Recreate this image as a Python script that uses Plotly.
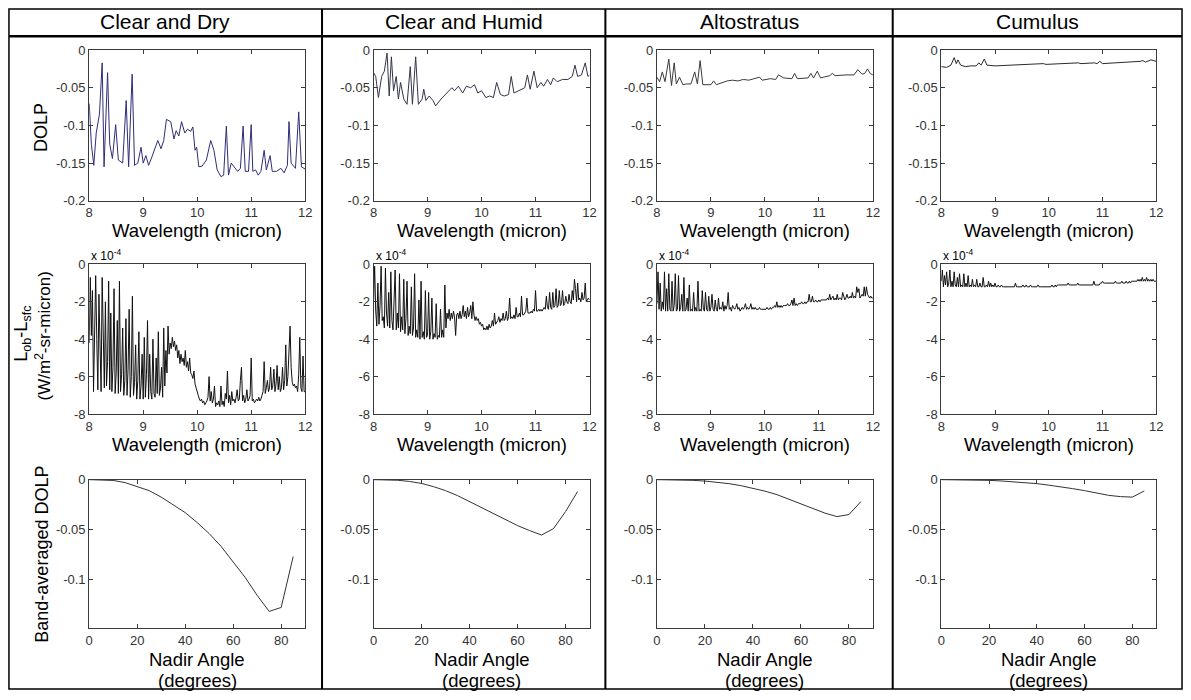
import plotly.graph_objects as go

W, H = 1191, 700

conditions = ["Clear and Dry", "Clear and Humid", "Altostratus", "Cumulus"]

# ---------------- Row 1: DOLP spectra ----------------
dolp_dry_wl = [8.0, 8.04, 8.085, 8.13, 8.19, 8.24, 8.275, 8.34, 8.38, 8.43,
               8.49, 8.54, 8.62, 8.685, 8.73, 8.795, 8.84, 8.9, 8.96, 9.0,
               9.05, 9.1, 9.16, 9.27, 9.33, 9.38, 9.43, 9.51, 9.57, 9.61,
               9.66, 9.71, 9.77, 9.82, 9.88, 9.92, 9.96, 9.99, 10.03, 10.09,
               10.17, 10.25, 10.31, 10.37, 10.44, 10.49, 10.54, 10.58, 10.63, 10.69,
               10.75, 10.8, 10.85, 10.89, 10.95, 11.0, 11.03, 11.08, 11.13, 11.18,
               11.24, 11.28, 11.35, 11.39, 11.47, 11.55, 11.61, 11.67, 11.7, 11.74,
               11.82, 11.88, 11.93, 12.0]
dolp_dry = [-0.071, -0.125, -0.153, -0.11, -0.085, -0.017, -0.155, -0.03, -0.125, -0.144,
            -0.099, -0.146, -0.15, -0.067, -0.155, -0.032, -0.153, -0.15, -0.129, -0.15,
            -0.14, -0.153, -0.142, -0.12, -0.131, -0.12, -0.092, -0.095, -0.118, -0.107,
            -0.114, -0.095, -0.11, -0.105, -0.108, -0.102, -0.133, -0.129, -0.155, -0.154,
            -0.146, -0.12, -0.133, -0.159, -0.168, -0.166, -0.101, -0.166, -0.15, -0.155,
            -0.161, -0.157, -0.101, -0.161, -0.161, -0.099, -0.161, -0.159, -0.166, -0.161,
            -0.133, -0.159, -0.14, -0.161, -0.161, -0.157, -0.163, -0.153, -0.095, -0.15,
            -0.157, -0.082, -0.155, -0.158]

dolp_humid_wl = [8.0, 8.04, 8.09, 8.15, 8.2, 8.25, 8.29, 8.33, 8.37, 8.42,
                 8.46, 8.5, 8.56, 8.62, 8.68, 8.72, 8.78, 8.83, 8.9, 8.93,
                 8.97, 9.03, 9.1, 9.15, 9.25, 9.35, 9.45, 9.5, 9.57, 9.65,
                 9.72, 9.8, 9.87, 9.93, 10.0, 10.08, 10.15, 10.22, 10.28, 10.35,
                 10.42, 10.5, 10.55, 10.6, 10.7, 10.8, 10.85, 10.9, 10.97, 11.03,
                 11.1, 11.15, 11.22, 11.28, 11.33, 11.4, 11.5, 11.6, 11.68, 11.73,
                 11.78, 11.85, 11.92, 11.97, 12.0]
dolp_humid = [-0.03, -0.035, -0.063, -0.035, -0.028, -0.004, -0.061, -0.009, -0.054, -0.035,
              -0.065, -0.043, -0.065, -0.072, -0.022, -0.072, -0.009, -0.072, -0.065, -0.052,
              -0.067, -0.061, -0.067, -0.074, -0.065, -0.057, -0.05, -0.054, -0.048, -0.057,
              -0.048, -0.05, -0.046, -0.057, -0.054, -0.063, -0.061, -0.063, -0.043, -0.059,
              -0.061, -0.059, -0.035, -0.057, -0.053, -0.05, -0.033, -0.052, -0.028, -0.05,
              -0.043, -0.048, -0.039, -0.046, -0.037, -0.042, -0.039, -0.039, -0.035, -0.02,
              -0.035, -0.033, -0.017, -0.035, -0.033]

dolp_alto_wl = [8.0, 8.05, 8.1, 8.15, 8.22, 8.27, 8.32, 8.36, 8.42, 8.48,
                8.55, 8.63, 8.7, 8.75, 8.8, 8.85, 9.0, 9.05, 9.1, 9.2,
                9.3, 9.4, 9.5, 9.6, 9.7, 9.8, 9.9, 9.95, 10.1, 10.2,
                10.25, 10.35, 10.5, 10.55, 10.6, 10.8, 10.85, 10.9, 10.97, 11.03,
                11.2, 11.25, 11.3, 11.5, 11.65, 11.72, 11.8, 11.85, 11.9, 11.95,
                12.0]
dolp_alto = [-0.036, -0.042, -0.029, -0.042, -0.012, -0.047, -0.017, -0.045, -0.036, -0.046,
             -0.045, -0.045, -0.029, -0.045, -0.014, -0.046, -0.046, -0.041, -0.046, -0.043,
             -0.041, -0.04, -0.041, -0.039, -0.04, -0.038, -0.036, -0.04, -0.038, -0.039,
             -0.033, -0.037, -0.038, -0.031, -0.038, -0.037, -0.031, -0.037, -0.028, -0.037,
             -0.034, -0.031, -0.034, -0.033, -0.033, -0.026, -0.032, -0.031, -0.025, -0.031,
             -0.033]

dolp_cumulus_wl = [8.0, 8.1, 8.18, 8.24, 8.28, 8.31, 8.36, 8.45, 8.55, 8.65,
                   8.7, 8.74, 8.8, 8.85, 9.0, 9.5, 9.9, 9.95, 10.5, 10.55,
                   10.6, 10.85, 10.9, 10.95, 11.0, 11.5, 11.7, 11.75, 11.8, 11.9,
                   12.0]
dolp_cumulus = [-0.022, -0.023, -0.02, -0.01, -0.018, -0.013, -0.02, -0.022, -0.021, -0.021,
                -0.017, -0.02, -0.012, -0.02, -0.021, -0.019, -0.018, -0.019, -0.018, -0.017,
                -0.018, -0.017, -0.018, -0.015, -0.018, -0.016, -0.015, -0.014, -0.016, -0.013,
                -0.015]

# ---------------- Row 2: L_ob - L_sfc (units of 1e-4 W/m^2-sr-micron),
# one value every 0.02 micron from 8.00 to 12.00 ----------------
wl_start, wl_step = 8.0, 0.02

rad_dry = [
    -4.2, -0.7, -3.8, -1.4, -6.8,
    -3.5, -0.6, -4.0, -6.7, -1.6,
    -4.5, -6.8, -0.7, -5.0, -6.6,
    -2.0, -6.5, -5.2, -0.9, -6.7,
    -2.6, -6.8, -5.5, -1.3, -6.9,
    -5.8, -3.0, -6.9, -0.9, -6.8,
    -5.9, -3.4, -7.0, -6.2, -2.9,
    -7.0, -5.6, -2.4, -7.1, -6.0,
    -1.7, -7.0, -6.3, -4.3, -7.2,
    -6.2, -3.6, -7.2, -6.5, -4.8,
    -7.2, -3.9, -7.1, -5.9, -3.0,
    -7.2, -4.8, -6.8, -7.2, -4.0,
    -6.9, -7.1, -5.0, -6.9, -3.6,
    -7.0, -6.6, -5.5, -7.1, -3.4,
    -6.5, -4.6, -5.8, -3.3, -4.8,
    -4.2, -4.5, -3.9, -4.4, -4.1,
    -4.6, -4.3, -5.0, -4.6, -5.3,
    -4.8, -5.2, -5.0, -5.4, -4.6,
    -5.5, -5.2, -5.7, -5.0, -5.8,
    -5.9, -6.1, -5.7, -6.4, -6.6,
    -6.9, -7.0, -7.2, -7.3, -7.2,
    -7.4, -7.3, -7.5, -7.4, -7.3,
    -7.1, -6.0, -7.3, -6.8, -7.4,
    -7.2, -6.5, -7.6, -7.4, -7.5,
    -7.3, -7.6, -6.5, -7.5, -7.3,
    -7.6, -6.9, -7.2, -5.7, -7.4,
    -7.0, -7.5, -6.8, -7.3, -7.2,
    -7.4, -7.1, -6.7, -7.3, -7.2,
    -6.2, -5.5, -7.3, -7.0, -7.4,
    -7.2, -6.7, -7.3, -7.2, -7.0,
    -5.0, -7.3, -7.2, -7.4, -7.3,
    -7.2, -7.3, -7.1, -7.3, -7.2,
    -7.0, -6.8, -5.2, -6.9, -6.6,
    -6.2, -6.8, -6.6, -5.5, -6.7,
    -6.5, -5.6, -6.8, -6.4, -5.4,
    -6.7, -6.0, -6.8, -6.6, -5.5,
    -6.7, -6.2, -4.3, -6.5, -6.0,
    -4.2, -3.3, -5.5, -6.3, -6.5,
    -6.4, -6.6, -6.5, -6.8, -5.9,
    -3.9, -6.6, -6.8, -4.9, -6.8,
    -6.8]

rad_humid = [
    -2.0, -0.1, -2.5, -3.3, -1.0,
    -3.2, -2.2, -0.1, -3.0, -2.8,
    -3.4, -0.2, -2.6, -3.3, -1.5,
    -3.4, -0.4, -3.0, -3.5, -2.2,
    -0.3, -3.5, -2.6, -3.4, -0.5,
    -3.6, -2.8, -3.5, -0.8, -3.7,
    -2.9, -0.9, -3.8, -3.3, -3.7,
    -1.2, -3.8, -3.4, -0.5, -3.9,
    -3.5, -3.9, -1.9, -4.0, -0.9,
    -3.9, -3.6, -4.0, -1.4, -3.9,
    -3.8, -1.5, -4.0, -3.6, -1.8,
    -4.0, -3.7, -3.9, -2.1, -4.0,
    -3.8, -3.9, -2.4, -3.9, -3.5,
    -3.9, -1.1, -3.4, -2.6, -2.9,
    -2.4, -3.0, -2.6, -2.9, -2.5,
    -2.8, -3.8, -2.7, -2.6, -2.9,
    -2.5, -2.9, -2.7, -2.2, -2.8,
    -2.5, -2.9, -2.3, -2.8, -2.6,
    -2.2, -2.9, -2.0, -2.7, -3.0,
    -2.8, -3.0, -2.9, -3.2, -3.1,
    -3.3, -3.2, -3.5, -3.4, -3.5,
    -3.3, -3.5, -3.2, -3.4, -3.3,
    -3.0, -3.3, -2.6, -3.2, -3.1,
    -3.0, -2.8, -3.1, -2.9, -3.0,
    -2.6, -3.0, -2.9, -2.5, -3.0,
    -2.8, -1.8, -2.9, -2.8, -2.9,
    -2.7, -2.9, -2.3, -2.8, -2.8,
    -2.6, -2.8, -1.7, -2.7, -2.7,
    -2.6, -2.5, -1.8, -2.6, -2.6,
    -2.6, -2.5, -2.6, -2.4, -2.5,
    -1.4, -2.5, -2.5, -2.4, -2.5,
    -2.4, -2.5, -2.4, -2.3, -2.4,
    -1.7, -2.3, -2.4, -1.5, -2.3,
    -2.4, -1.5, -2.3, -2.2, -1.3,
    -2.3, -2.2, -1.4, -2.2, -2.1,
    -1.4, -2.2, -2.1, -1.7, -2.0,
    -2.1, -1.6, -2.0, -2.1, -1.4,
    -1.9, -0.8, -1.3, -2.0, -1.0,
    -1.9, -1.8, -2.0, -1.5, -1.9,
    -1.8, -1.0, -2.0, -1.9, -1.8,
    -1.9]

rad_alto = [
    -2.1, -0.4, -2.4, -1.0, -2.5,
    -2.0, -2.4, -0.4, -2.5, -1.3,
    -2.5, -0.5, -2.4, -2.5, -0.9,
    -2.5, -2.2, -0.5, -2.5, -2.4,
    -0.6, -2.5, -2.3, -1.6, -2.5,
    -0.7, -2.5, -2.4, -1.8, -2.5,
    -1.1, -2.5, -2.4, -2.5, -1.5,
    -2.5, -2.3, -2.5, -0.9, -2.5,
    -2.4, -2.5, -1.4, -2.4, -2.5,
    -1.5, -2.4, -2.5, -1.7, -2.5,
    -2.3, -1.6, -2.4, -2.5, -1.9,
    -2.4, -2.5, -1.8, -2.4, -2.3,
    -2.4, -2.0, -2.5, -2.2, -2.4,
    -2.2, -1.5, -2.4, -2.3, -2.5,
    -2.2, -2.3, -2.4, -2.3, -2.1,
    -2.4, -2.3, -2.5, -2.4, -2.3,
    -2.4, -2.3, -2.1, -2.4, -2.3,
    -2.4, -2.3, -2.1, -2.4, -2.3,
    -2.4, -2.3, -2.4, -2.4, -2.4,
    -2.3, -2.4, -2.4, -2.4, -2.4,
    -2.4, -2.4, -2.3, -2.4, -2.4,
    -2.3, -2.4, -2.3, -2.3, -2.2,
    -2.3, -2.0, -2.3, -2.2, -2.3,
    -2.2, -2.3, -2.2, -2.2, -2.2,
    -2.2, -2.1, -2.2, -2.2, -2.1,
    -1.9, -2.2, -1.8, -2.2, -2.1,
    -2.2, -2.1, -2.1, -2.1, -2.0,
    -2.1, -2.1, -2.0, -2.1, -2.0,
    -2.0, -1.6, -2.0, -2.0, -1.7,
    -2.0, -2.0, -1.9, -2.0, -2.0,
    -1.9, -2.0, -1.9, -1.9, -1.9,
    -1.9, -1.9, -1.9, -1.8, -1.9,
    -1.6, -1.9, -1.8, -1.7, -1.9,
    -1.8, -1.9, -1.6, -1.9, -1.8,
    -1.8, -1.9, -1.5, -1.8, -1.9,
    -1.8, -1.6, -1.8, -1.8, -1.7,
    -1.8, -1.5, -1.8, -1.7, -1.8,
    -1.2, -1.5, -1.3, -1.8, -1.7,
    -1.6, -1.7, -1.2, -1.7, -1.2,
    -1.6, -1.7, -1.8, -1.7, -1.8,
    -1.8]

rad_cumulus = [
    -0.9, -0.3, -1.2, -0.6, -1.1,
    -0.4, -1.2, -1.0, -0.3, -1.2,
    -0.9, -1.2, -0.4, -1.1, -1.2,
    -0.7, -1.2, -0.5, -1.2, -1.1,
    -1.2, -0.5, -1.2, -1.0, -1.2,
    -0.6, -1.2, -1.1, -1.2, -0.8,
    -1.2, -1.1, -1.2, -0.8, -1.2,
    -1.2, -1.0, -1.2, -1.2, -0.7,
    -1.2, -1.2, -1.1, -1.2, -0.9,
    -1.2, -1.0, -1.2, -1.1, -1.2,
    -1.0, -1.2, -1.2, -1.1, -1.2,
    -1.2, -1.1, -1.2, -1.2, -1.2,
    -1.2, -1.2, -1.2, -1.2, -1.2,
    -1.2, -1.2, -1.2, -1.2, -1.0,
    -1.2, -1.2, -1.2, -1.2, -1.2,
    -1.2, -1.1, -1.2, -1.2, -1.1,
    -1.2, -1.2, -1.2, -1.1, -1.2,
    -1.2, -1.2, -1.2, -1.2, -1.2,
    -1.1, -1.2, -1.2, -1.2, -1.2,
    -1.2, -1.2, -1.2, -1.2, -1.2,
    -1.2, -1.2, -1.2, -1.1, -1.2,
    -1.2, -1.1, -1.2, -1.1, -1.1,
    -1.1, -1.1, -1.1, -1.1, -1.1,
    -1.1, -1.1, -1.1, -1.0, -1.1,
    -1.1, -1.1, -1.1, -1.1, -1.1,
    -1.1, -1.1, -1.0, -1.1, -1.1,
    -1.1, -1.1, -1.1, -1.1, -1.1,
    -1.1, -1.1, -1.1, -1.1, -1.1,
    -1.1, -1.1, -0.9, -1.1, -1.1,
    -1.1, -1.1, -1.1, -1.0, -1.0,
    -0.9, -1.0, -1.0, -1.0, -1.0,
    -1.0, -1.0, -1.0, -1.0, -1.0,
    -1.0, -1.0, -0.9, -1.0, -1.0,
    -1.0, -1.0, -1.0, -0.9, -1.0,
    -1.0, -1.0, -0.9, -1.0, -1.0,
    -0.9, -1.0, -0.9, -0.9, -0.9,
    -0.9, -0.9, -0.9, -0.8, -0.9,
    -0.8, -0.9, -0.7, -0.9, -0.8,
    -0.9, -0.7, -0.9, -0.8, -0.9,
    -0.8, -0.9, -0.8, -0.9, -0.9,
    -0.9]

# ---------------- Row 3: band-averaged DOLP vs nadir angle ----------------
nadir_angle = [0, 5, 10, 15, 20, 25, 30, 35, 40, 45, 50, 55, 60, 65, 70, 75, 80, 85]
band_dolp_dry = [0.0, -0.0002, -0.0008, -0.003, -0.0068, -0.011, -0.0175, -0.025, -0.033,
                 -0.043, -0.054, -0.067, -0.082, -0.098, -0.116, -0.132, -0.128, -0.077]
band_dolp_humid = [0.0, -0.0001, -0.0006, -0.0018, -0.0038, -0.007, -0.011, -0.016, -0.022,
                   -0.028, -0.034, -0.040, -0.046, -0.051, -0.0555, -0.049, -0.032, -0.012]
band_dolp_alto = [0.0, 0.0, -0.0002, -0.0007, -0.0014, -0.0025, -0.004, -0.006, -0.0085,
                  -0.0115, -0.015, -0.0195, -0.024, -0.029, -0.0335, -0.037, -0.035, -0.022]
band_dolp_cumulus = [0.0, 0.0, -0.0001, -0.0003, -0.0007, -0.0013, -0.002, -0.003, -0.004,
                     -0.0055, -0.007, -0.009, -0.011, -0.0135, -0.0157, -0.017, -0.0175, -0.0113]

# ---------------- ticks ----------------
wl_tickvals = [8, 9, 10, 11, 12]
wl_ticktext = ["8", "9", "10", "11", "12"]
angle_tickvals = [0, 20, 40, 60, 80]
angle_ticktext = ["0", "20", "40", "60", "80"]
dolp_tickvals = [0, -0.05, -0.1, -0.15, -0.2]
dolp_ticktext = ["0", "-0.05", "-0.1", "-0.15", "-0.2"]
rad_tickvals = [0, -2, -4, -6, -8]
rad_ticktext = ["0", "-2", "-4", "-6", "-8"]
band_tickvals = [0, -0.05, -0.1]
band_ticktext = ["0", "-0.05", "-0.1"]

# ---------------- layout geometry (pixels) ----------------
col_px = [(86, 304), (373, 591), (659, 877), (946, 1163)]
row_px = [(44, 198), (263, 416), (483, 635)]
col_dividers = [321, 607, 897]

FONT = "Arial, 'Liberation Sans', Helvetica, sans-serif"
AX = "#3a3a3a"


def px_x(p):
    return p / W


def px_y(p):
    return 1 - p / H


fig = go.Figure()

row_series = [
    [(dolp_dry_wl, dolp_dry), (dolp_humid_wl, dolp_humid),
     (dolp_alto_wl, dolp_alto), (dolp_cumulus_wl, dolp_cumulus)],
    [rad_dry, rad_humid, rad_alto, rad_cumulus],
    [band_dolp_dry, band_dolp_humid, band_dolp_alto, band_dolp_cumulus],
]
row1_colors = ["#2e2e78", "#34344a", "#3a3a3a", "#2a2a2a"]

for r in range(3):
    for c in range(4):
        k = r * 4 + c + 1
        xs = "x" if k == 1 else f"x{k}"
        ys = "y" if k == 1 else f"y{k}"
        xkey = "xaxis" if k == 1 else f"xaxis{k}"
        ykey = "yaxis" if k == 1 else f"yaxis{k}"
        if r == 0:
            xv, yv = row_series[0][c]
            fig.add_trace(go.Scatter(x=xv, y=yv, mode="lines", xaxis=xs, yaxis=ys,
                                     line=dict(color=row1_colors[c], width=1),
                                     showlegend=False, hoverinfo="skip"))
            xr, xt, xtt = [8, 12], wl_tickvals, wl_ticktext
            yr, yt, ytt = [-0.2, 0], dolp_tickvals, dolp_ticktext
        elif r == 1:
            fig.add_trace(go.Scatter(x0=wl_start, dx=wl_step, y=row_series[1][c],
                                     mode="lines", xaxis=xs, yaxis=ys,
                                     line=dict(color="#111111", width=1),
                                     showlegend=False, hoverinfo="skip"))
            xr, xt, xtt = [8, 12], wl_tickvals, wl_ticktext
            yr, yt, ytt = [-8, 0], rad_tickvals, rad_ticktext
        else:
            fig.add_trace(go.Scatter(x=nadir_angle, y=row_series[2][c], mode="lines",
                                     xaxis=xs, yaxis=ys,
                                     line=dict(color="#333333", width=1),
                                     showlegend=False, hoverinfo="skip"))
            xr, xt, xtt = [0, 90], angle_tickvals, angle_ticktext
            yr, yt, ytt = [-0.149, 0], band_tickvals, band_ticktext

        common = dict(showline=True, linecolor=AX, linewidth=1, mirror="ticks",
                      ticks="inside", ticklen=4, tickcolor=AX, tickwidth=1,
                      showgrid=False, zeroline=False,
                      tickfont=dict(family=FONT, size=13, color="#333333"))
        fig.layout[xkey] = dict(domain=[px_x(col_px[c][0]), px_x(col_px[c][1])],
                                anchor=ys, range=xr, tickmode="array",
                                tickvals=xt, ticktext=xtt, **common)
        fig.layout[ykey] = dict(domain=[px_y(row_px[r][1]), px_y(row_px[r][0])],
                                anchor=xs, range=yr, tickmode="array",
                                tickvals=yt, ticktext=ytt, **common)

annotations = []


def ann(text, xp, yp, size, angle=0, xanchor="center", yanchor="middle"):
    annotations.append(dict(text=text, x=px_x(xp), y=px_y(yp), xref="paper", yref="paper",
                            showarrow=False, textangle=angle, xanchor=xanchor,
                            yanchor=yanchor, font=dict(family=FONT, size=size, color="#000000")))


# column headers
header_centers = [(5 + 321) / 2, (321 + 607) / 2, (607 + 897) / 2, (897 + 1189) / 2]
for c in range(4):
    ann(conditions[c], header_centers[c], 15, 21)

# x-axis titles
for c in range(4):
    cx = (col_px[c][0] + col_px[c][1]) / 2
    ann("Wavelength (micron)", cx, 228, 18.5)
    ann("Wavelength (micron)", cx, 447, 18.5)
    ann("Nadir Angle", cx, 667, 18.5)
    ann("(degrees)", cx, 688, 18.5)
    ann("x 10<sup>-4</sup>", col_px[c][0], 253, 12, xanchor="left")

# y-axis titles
ann("DOLP", 38, 123, 18, angle=-90)
ann("L<sub>ob</sub>-L<sub>sfc</sub>", 19, 334, 18, angle=-90)
ann("(W/m<sup>2</sup>-sr-micron)", 39, 336, 17, angle=-90)
ann("Band-averaged DOLP", 38, 559, 18, angle=-90)

shapes = []
line_style = dict(color="#000000", width=2)
shapes.append(dict(type="rect", xref="paper", yref="paper",
                   x0=px_x(5), x1=px_x(1189), y0=px_y(697), y1=px_y(2),
                   line=dict(color="#000000", width=1.5)))
shapes.append(dict(type="line", xref="paper", yref="paper",
                   x0=px_x(5), x1=px_x(1189), y0=px_y(30), y1=px_y(30),
                   line=dict(color="#000000", width=2.5)))
for d in col_dividers:
    shapes.append(dict(type="line", xref="paper", yref="paper",
                       x0=px_x(d), x1=px_x(d), y0=px_y(697), y1=px_y(2),
                       line=line_style))

fig.update_layout(width=W, height=H, margin=dict(l=0, r=0, t=0, b=0),
                  paper_bgcolor="white", plot_bgcolor="white",
                  annotations=annotations, shapes=shapes, showlegend=False,
                  font=dict(family=FONT))

fig.write_html("out.html", config={"displayModeBar": False},
               post_script="document.body.style.margin='0';document.body.style.overflow='hidden';")
